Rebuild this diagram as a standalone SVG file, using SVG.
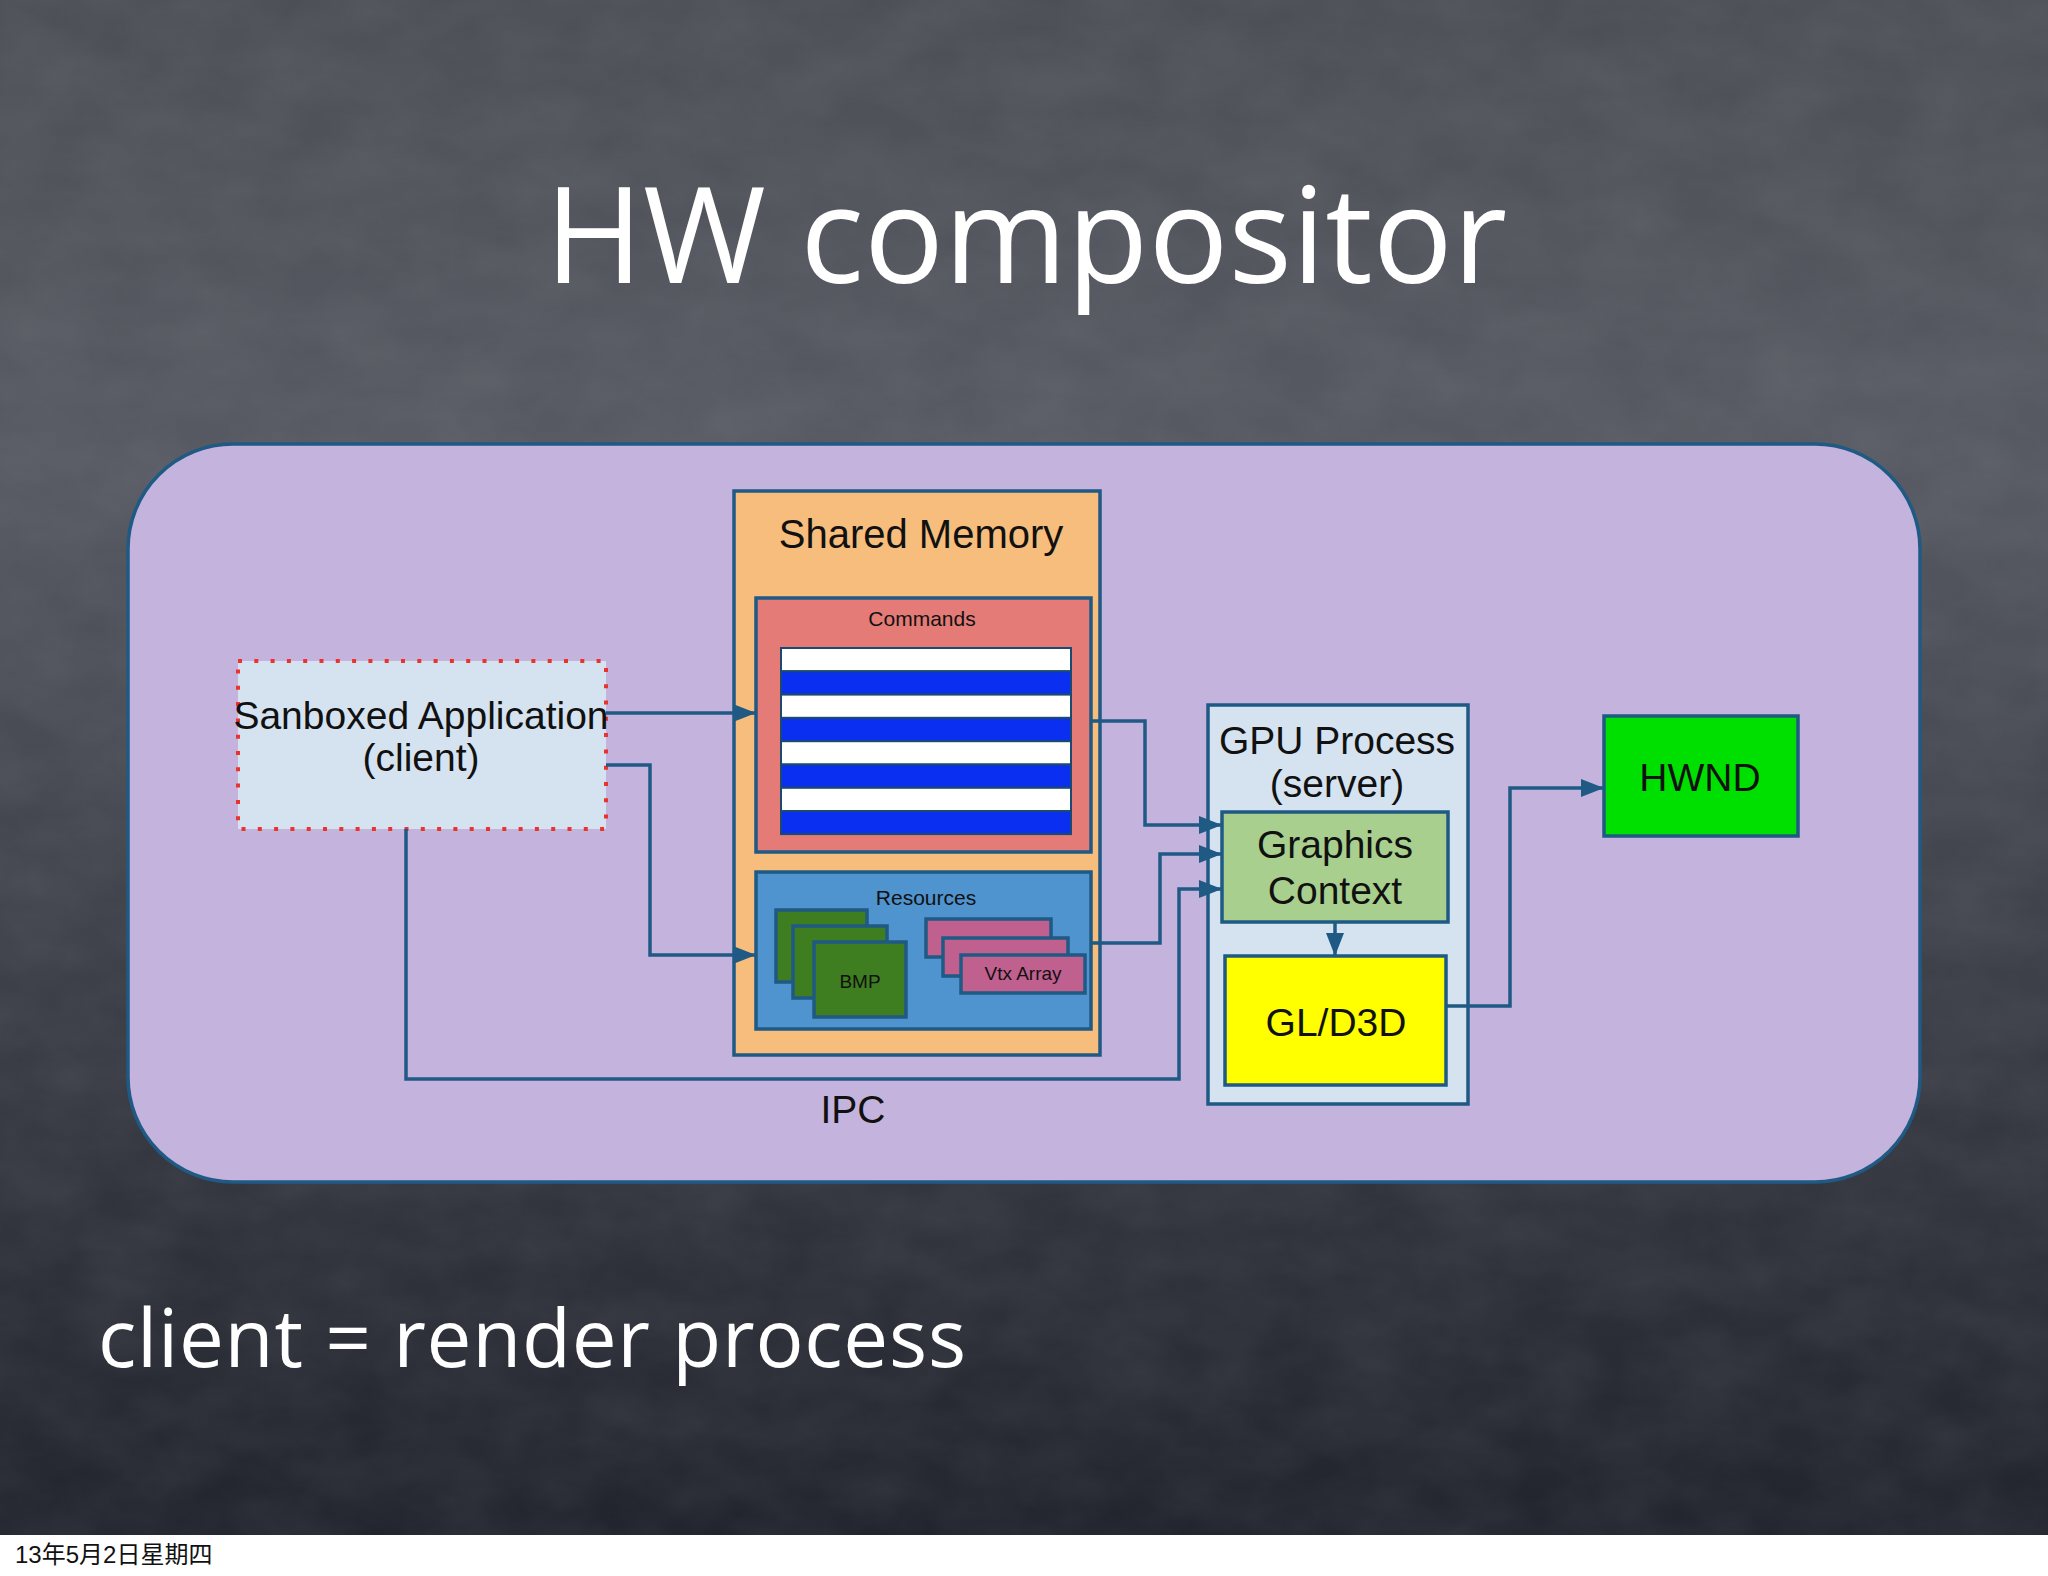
<svg xmlns="http://www.w3.org/2000/svg" width="2048" height="1576" viewBox="0 0 2048 1576">
<defs>
<linearGradient id="bg" x1="0" y1="0" x2="0" y2="1">
<stop offset="0" stop-color="#4c4f56"/>
<stop offset="0.3" stop-color="#575a62"/>
<stop offset="0.65" stop-color="#3b3e46"/>
<stop offset="1" stop-color="#21232d"/>
</linearGradient>
<filter id="chalk" x="0" y="0" width="100%" height="100%">
<feTurbulence type="fractalNoise" baseFrequency="0.012 0.02" numOctaves="4" seed="3"/>
<feColorMatrix type="matrix" values="0 0 0 0 0.5  0 0 0 0 0.5  0 0 0 0 0.55  0.5 0 0 0 -0.1"/>
</filter>
<marker id="arr" markerUnits="userSpaceOnUse" markerWidth="24" markerHeight="18" refX="23" refY="9" orient="auto">
<path d="M0,0 L23,9 L0,18 z" fill="#1f5a85"/>
</marker>
</defs>
<style>
.box{stroke:#1f5a85;stroke-width:3.5}
.lbl{font-family:"Liberation Sans",Arial,sans-serif;fill:#111;text-anchor:middle}
.conn{fill:none;stroke:#1f5a85;stroke-width:3.5;marker-end:url(#arr)}
.hand{font-family:"Open Sans","Noto Sans",sans-serif;fill:#fff}
.sw{fill:#ffffff;stroke:#1a4a70;stroke-width:2}
.sb{fill:#0a2ff0;stroke:#1a4a70;stroke-width:2}
</style>
<rect x="0" y="0" width="2048" height="1576" fill="#ffffff"/>
<rect x="0" y="0" width="2048" height="1535" fill="url(#bg)"/>
<rect x="0" y="0" width="2048" height="1535" filter="url(#chalk)" opacity="0.25"/>
<text class="hand" x="545" y="283" font-size="133" textLength="962" lengthAdjust="spacing">HW  compositor</text>
<text class="hand" x="98" y="1367" font-size="80" textLength="868" lengthAdjust="spacing">client = render process</text>
<text x="15" y="1563" font-size="24" font-family="'Liberation Sans','Noto Sans CJK SC',sans-serif" fill="#111">13年5月2日星期四</text>

<g id="panel">
<rect x="128" y="444" width="1792" height="738" rx="105" ry="105" fill="#c4b3dc" stroke="#1f5a85" stroke-width="3.5"/>
</g>

<g id="shared-memory">
<rect class="box" x="734" y="491" width="366" height="564" fill="#f7bd7c"/>
<text class="lbl" x="921" y="548" font-size="40">Shared Memory</text>
</g>
<g id="commands">
<rect class="box" x="756" y="598" width="335" height="254" fill="#e57b77"/>
<text class="lbl" x="922" y="626" font-size="21">Commands</text>
<rect x="780" y="647" width="292" height="188" fill="#1a4a70"/>
<rect class="sw" x="781" y="648" width="290" height="23.3"/>
<rect class="sb" x="781" y="671.3" width="290" height="23.3"/>
<rect class="sw" x="781" y="694.6" width="290" height="23.3"/>
<rect class="sb" x="781" y="717.9" width="290" height="23.3"/>
<rect class="sw" x="781" y="741.2" width="290" height="23.3"/>
<rect class="sb" x="781" y="764.5" width="290" height="23.3"/>
<rect class="sw" x="781" y="787.8" width="290" height="23.3"/>
<rect class="sb" x="781" y="811.1" width="290" height="23"/>
</g>
<g id="resources">
<rect class="box" x="756" y="872" width="335" height="157" fill="#4f93cf"/>
<text class="lbl" x="926" y="905" font-size="21">Resources</text>
</g>
<g id="bmp">
<rect class="box" x="776" y="910" width="91" height="72" fill="#3e7d20"/>
<rect class="box" x="793" y="926" width="94" height="72" fill="#3e7d20"/>
<rect class="box" x="814" y="942" width="92" height="75" fill="#3e7d20"/>
<text class="lbl" x="860" y="988" font-size="19">BMP</text>
</g>
<g id="vtx-array">
<rect class="box" x="926" y="919" width="125" height="38" fill="#c0608f"/>
<rect class="box" x="943" y="938" width="125" height="38" fill="#c0608f"/>
<rect class="box" x="961" y="955" width="124" height="38" fill="#c0608f"/>
<text class="lbl" x="1023" y="980" font-size="19">Vtx Array</text>
</g>

<g id="sandboxed-app">
<rect x="238" y="661" width="368" height="168" fill="#d5e3f0" stroke="#e8332e" stroke-width="4" stroke-dasharray="4 12.3"/>
<text class="lbl" x="421" y="729" font-size="39">Sanboxed Application</text>
<text class="lbl" x="421" y="771" font-size="39">(client)</text>
</g>

<g id="gpu-process">
<rect class="box" x="1208" y="705" width="260" height="399" fill="#d5e3f0"/>
<text class="lbl" x="1337" y="754" font-size="39">GPU Process</text>
<text class="lbl" x="1337" y="797" font-size="39">(server)</text>
</g>
<g id="graphics-context">
<rect class="box" x="1222" y="812" width="226" height="110" fill="#a8cf8d"/>
<text class="lbl" x="1335" y="858" font-size="39">Graphics</text>
<text class="lbl" x="1335" y="904" font-size="39">Context</text>
</g>
<g id="gl-d3d">
<rect class="box" x="1225" y="956" width="221" height="129" fill="#ffff00"/>
<text class="lbl" x="1336" y="1036" font-size="39">GL/D3D</text>
</g>
<g id="hwnd">
<rect class="box" x="1604" y="716" width="194" height="120" fill="#00e000"/>
<text class="lbl" x="1700" y="791" font-size="39">HWND</text>
</g>

<text id="ipc" class="lbl" x="853" y="1123" font-size="39">IPC</text>

<g id="connectors">
<path class="conn" d="M606,713 L756,713"/>
<path class="conn" d="M606,765 L650,765 L650,955 L756,955"/>
<path class="conn" d="M406,829 L406,1079 L1179,1079 L1179,889 L1222,889"/>
<path class="conn" d="M1091,721 L1145,721 L1145,825 L1222,825"/>
<path class="conn" d="M1091,943 L1160,943 L1160,854 L1222,854"/>
<path class="conn" d="M1335,922 L1335,956"/>
<path class="conn" d="M1446,1006 L1510,1006 L1510,788 L1604,788"/>
</g>
</svg>
